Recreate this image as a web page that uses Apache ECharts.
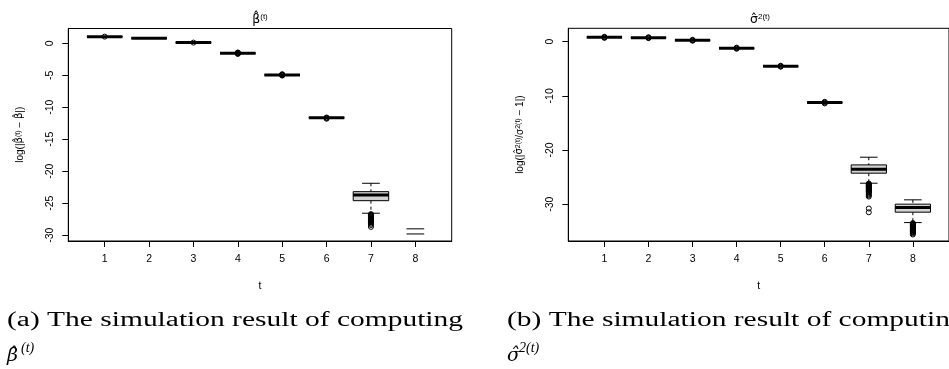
<!DOCTYPE html>
<html><head><meta charset="utf-8">
<script src="https://cdn.jsdelivr.net/npm/echarts@6/dist/echarts.min.js"></script>
<style>html,body{margin:0;padding:0;background:#fff}#c{width:949px;height:369px}</style>
</head><body><div id="c"></div>
<script>
// ---------------- data ----------------
const tCategories = [1, 2, 3, 4, 5, 6, 7, 8];
// box statistics per t: [lower whisker, Q1, median, Q3, upper whisker]
const betaBoxes = [
  [1.03, 1.03, 1.03, 1.03, 1.03],
  [0.78, 0.78, 0.78, 0.78, 0.78],
  [0.10, 0.10, 0.10, 0.10, 0.10],
  [-1.56, -1.56, -1.56, -1.56, -1.56],
  [-4.95, -4.95, -4.95, -4.95, -4.95],
  [-11.63, -11.63, -11.63, -11.63, -11.63],
  [-26.56, -24.6, -23.7, -23.19, -21.88],
  [-29.8, null, null, null, -29.0]
];
const betaOutliers = [
  [1.03],
  [],
  [0.10],
  [-1.45, -1.5, -1.56, -1.62, -1.67],
  [-4.85, -4.9, -4.95, -5.0, -5.05],
  [-11.6, -11.7, -11.8],
  [-26.7, -26.8, -26.9, -27.0, -27.1, -27.2, -27.3, -27.4, -27.5, -27.6, -27.7, -27.8, -27.9, -28.0, -28.2, -28.4, -28.7],
  []
];
const sigmaBoxes = [
  [0.81, 0.81, 0.81, 0.81, 0.81],
  [0.74, 0.74, 0.74, 0.74, 0.74],
  [0.26, 0.26, 0.26, 0.26, 0.26],
  [-1.22, -1.22, -1.22, -1.22, -1.22],
  [-4.54, -4.54, -4.54, -4.54, -4.54],
  [-11.25, -11.25, -11.25, -11.25, -11.25],
  [-26.13, -24.28, -23.54, -22.75, -21.33],
  [-33.4, -31.48, -30.63, -30.0, -29.2]
];
const sigmaOutliers = [
  [0.7, 0.81, 0.9],
  [0.65, 0.74, 0.82],
  [0.18, 0.26, 0.34],
  [-1.1, -1.22, -1.3],
  [-4.45, -4.54, -4.62],
  [-11.1, -11.25, -11.4],
  [-26.2, -26.3, -26.4, -26.5, -26.6, -26.7, -26.8, -26.9, -27.0, -27.1, -27.2, -27.3, -27.4, -27.5, -27.6, -27.7, -27.8, -28.0, -28.2, -28.4, -28.6, -30.8, -31.5],
  [-33.5, -33.6, -33.7, -33.8, -33.9, -34.0, -34.1, -34.2, -34.3, -34.4, -34.5, -34.6, -34.7, -34.8, -34.9, -35.0, -35.1, -35.2, -35.4, -35.6]
];
const betaYTicks = [0, -5, -10, -15, -20, -25, -30];
const sigmaYTicks = [0, -10, -20, -30];
const xTickLabels = ['1', '2', '3', '4', '5', '6', '7', '8'];
const captionA = '(a) The simulation result of computing';
const captionB = '(b) The simulation result of computing';

// ---------------- chart ----------------
const FONT = '"Liberation Sans", Arial, Helvetica, sans-serif';
const HATFONT = '"DejaVu Sans", sans-serif';
const SERIF = '"Liberation Serif", "Times New Roman", serif';
const HATSERIF = '"DejaVu Serif", serif';
const chart = echarts.init(document.getElementById('c'), null, {renderer: 'canvas'});

function xAxisCfg(gi) {
  return {
    type: 'value', gridIndex: gi, min: 0.18, max: 8.82,
    axisLine: {show: true, onZero: false, lineStyle: {color: '#000', width: 1}},
    axisTick: {show: true, length: 6, customValues: tCategories, lineStyle: {color: '#000', width: 1}},
    axisLabel: {customValues: tCategories, formatter: v => xTickLabels[tCategories.indexOf(v)] ?? String(v),
      color: '#000', fontSize: 10.5, fontFamily: FONT, margin: 13},
    splitLine: {show: false},
    name: 't', nameLocation: 'middle', nameGap: 40,
    nameTextStyle: {color: '#000', fontSize: 10.5, fontFamily: FONT}
  };
}
function yAxisCfg(gi, min, max, ticks, name, rich, gap) {
  return {
    type: 'value', gridIndex: gi, min: min, max: max,
    axisLine: {show: true, onZero: false, lineStyle: {color: '#000', width: 1}},
    axisTick: {show: true, length: 6, customValues: ticks, lineStyle: {color: '#000', width: 1}},
    axisLabel: {customValues: ticks, rotate: 90, color: '#000', fontSize: 10.5, fontFamily: FONT, margin: 13},
    splitLine: {show: false},
    name: name, nameLocation: 'middle', nameRotate: 90, nameGap: gap,
    nameTextStyle: {color: '#000', fontSize: 10, fontFamily: FONT, rich: rich}
  };
}
function boxSeries(gi, boxes) {
  return {
    type: 'custom', xAxisIndex: gi, yAxisIndex: gi, silent: true, z: 2,
    data: tCategories.map((t, i) => [t, boxes[i][2] === null ? boxes[i][0] : boxes[i][2]]),
    encode: {x: 0, y: 1},
    renderItem: function (params, api) {
      const i = params.dataIndex;
      const b = boxes[i];
      const t = tCategories[i];
      const X = v => api.coord([v, 0])[0];
      const Y = v => api.coord([t, v])[1];
      const xl = X(t - 0.4), xr = X(t + 0.4), xc = X(t);
      const sl = X(t - 0.2), sr = X(t + 0.2);
      const [lo, q1, med, q3, hi] = b;
      const ch = [];
      const ln = (x1, y1, x2, y2, w, dash) => ({type: 'line', shape: {x1, y1, x2, y2},
        style: {stroke: '#000', lineWidth: w, lineDash: dash || null, fill: null}});
      if (q1 !== null) {
        ch.push(ln(xc, Y(hi), xc, Y(q3), 1, [3, 3]));
        ch.push(ln(xc, Y(q1), xc, Y(lo), 1, [3, 3]));
      }
      ch.push(ln(sl, Y(hi), sr, Y(hi), 1));
      ch.push(ln(sl, Y(lo), sr, Y(lo), 1));
      if (q1 !== null) {
        ch.push({type: 'rect', shape: {x: xl, y: Y(q3), width: xr - xl, height: Y(q1) - Y(q3)},
          style: {fill: '#d3d3d3', stroke: '#000', lineWidth: 1}});
        ch.push(ln(xl, Y(med), xr, Y(med), 3));
      }
      return {type: 'group', children: ch};
    }
  };
}
function outlierSeries(gi, outs) {
  const pts = [];
  outs.forEach((arr, i) => arr.forEach(v => pts.push([tCategories[i], v])));
  return {
    type: 'scatter', xAxisIndex: gi, yAxisIndex: gi, silent: true, z: 3,
    symbol: 'circle', symbolSize: 5, data: pts,
    itemStyle: {color: 'rgba(0,0,0,0)', borderColor: '#000', borderWidth: 1, opacity: 1}
  };
}

const nameRich = {
  t: {fontSize: 10, fontFamily: FONT, color: '#000'},
  h: {fontSize: 10, fontFamily: HATFONT, color: '#000'},
  s: {fontSize: 7, fontFamily: FONT, color: '#000', verticalAlign: 'top', padding: [0, 0, 4, 0]}
};

// caption scale (LaTeX-justified first line)
const CAPSIZE = 20;
const cv = document.createElement('canvas').getContext('2d');
cv.font = CAPSIZE + 'px ' + SERIF;
const capScale = 456 / cv.measureText(captionA).width;

const titleRich = {
  h: {fontSize: 12.5, fontFamily: HATFONT, fill: '#000'},
  s: {fontSize: 8, fontFamily: FONT, fill: '#000', verticalAlign: 'top', padding: [0, 0, 6, 0]}
};

const option = {
  animation: false,
  backgroundColor: '#fff',
  grid: [
    {left: 68.3, top: 28.5, width: 383.4, height: 212.5, show: true, borderColor: '#000', borderWidth: 1, backgroundColor: 'transparent'},
    {left: 568.3, top: 28.3, width: 383.4, height: 212.7, show: true, borderColor: '#000', borderWidth: 1, backgroundColor: 'transparent'}
  ],
  xAxis: [xAxisCfg(0), xAxisCfg(1)],
  yAxis: [
    yAxisCfg(0, -30.9, 2.3, betaYTicks, '{t|log(|}{h|β̂}{s|(t)}{t| − }{h|β̂}{t||)}', nameRich, 43),
    yAxisCfg(1, -36.8, 2.47, sigmaYTicks, '{t|log(|}{h|σ̂}{s|2(t)}{t|/σ}{s|2(t)}{t| − 1|)}', nameRich, 43)
  ],
  series: [
    boxSeries(0, betaBoxes), outlierSeries(0, betaOutliers),
    boxSeries(1, sigmaBoxes), outlierSeries(1, sigmaOutliers)
  ],
  graphic: [
    {type: 'text', x: 260, y: 27, silent: true, style: {text: '{h|β̂}{s|(t)}', align: 'center', verticalAlign: 'bottom', rich: titleRich}},
    {type: 'text', x: 760, y: 27, silent: true, style: {text: '{h|σ̂}{s|2(t)}', align: 'center', verticalAlign: 'bottom', rich: titleRich}},
    {type: 'text', x: 7, y: 331, scaleX: capScale, silent: true,
      style: {text: captionA, font: CAPSIZE + 'px ' + SERIF, fill: '#000', align: 'left', verticalAlign: 'bottom'}},
    {type: 'text', x: 507, y: 331, scaleX: capScale, silent: true,
      style: {text: captionB, font: CAPSIZE + 'px ' + SERIF, fill: '#000', align: 'left', verticalAlign: 'bottom'}},
    // second caption lines: symbol + superscript
    {type: 'text', x: 7, y: 366, silent: true,
      style: {text: 'β̂', font: 'italic 19px ' + HATSERIF, fill: '#000', align: 'left', verticalAlign: 'bottom'}},
    {type: 'text', x: 21, y: 355, silent: true,
      style: {text: '(t)', font: 'italic 14px ' + SERIF, fill: '#000', align: 'left', verticalAlign: 'bottom'}},
    {type: 'text', x: 507, y: 366, silent: true,
      style: {text: 'σ̂', font: 'italic 19px ' + HATSERIF, fill: '#000', align: 'left', verticalAlign: 'bottom'}},
    {type: 'text', x: 519, y: 355, silent: true,
      style: {text: '2(t)', font: 'italic 14px ' + SERIF, fill: '#000', align: 'left', verticalAlign: 'bottom'}}
  ]
};
chart.setOption(option);
</script></body></html>
